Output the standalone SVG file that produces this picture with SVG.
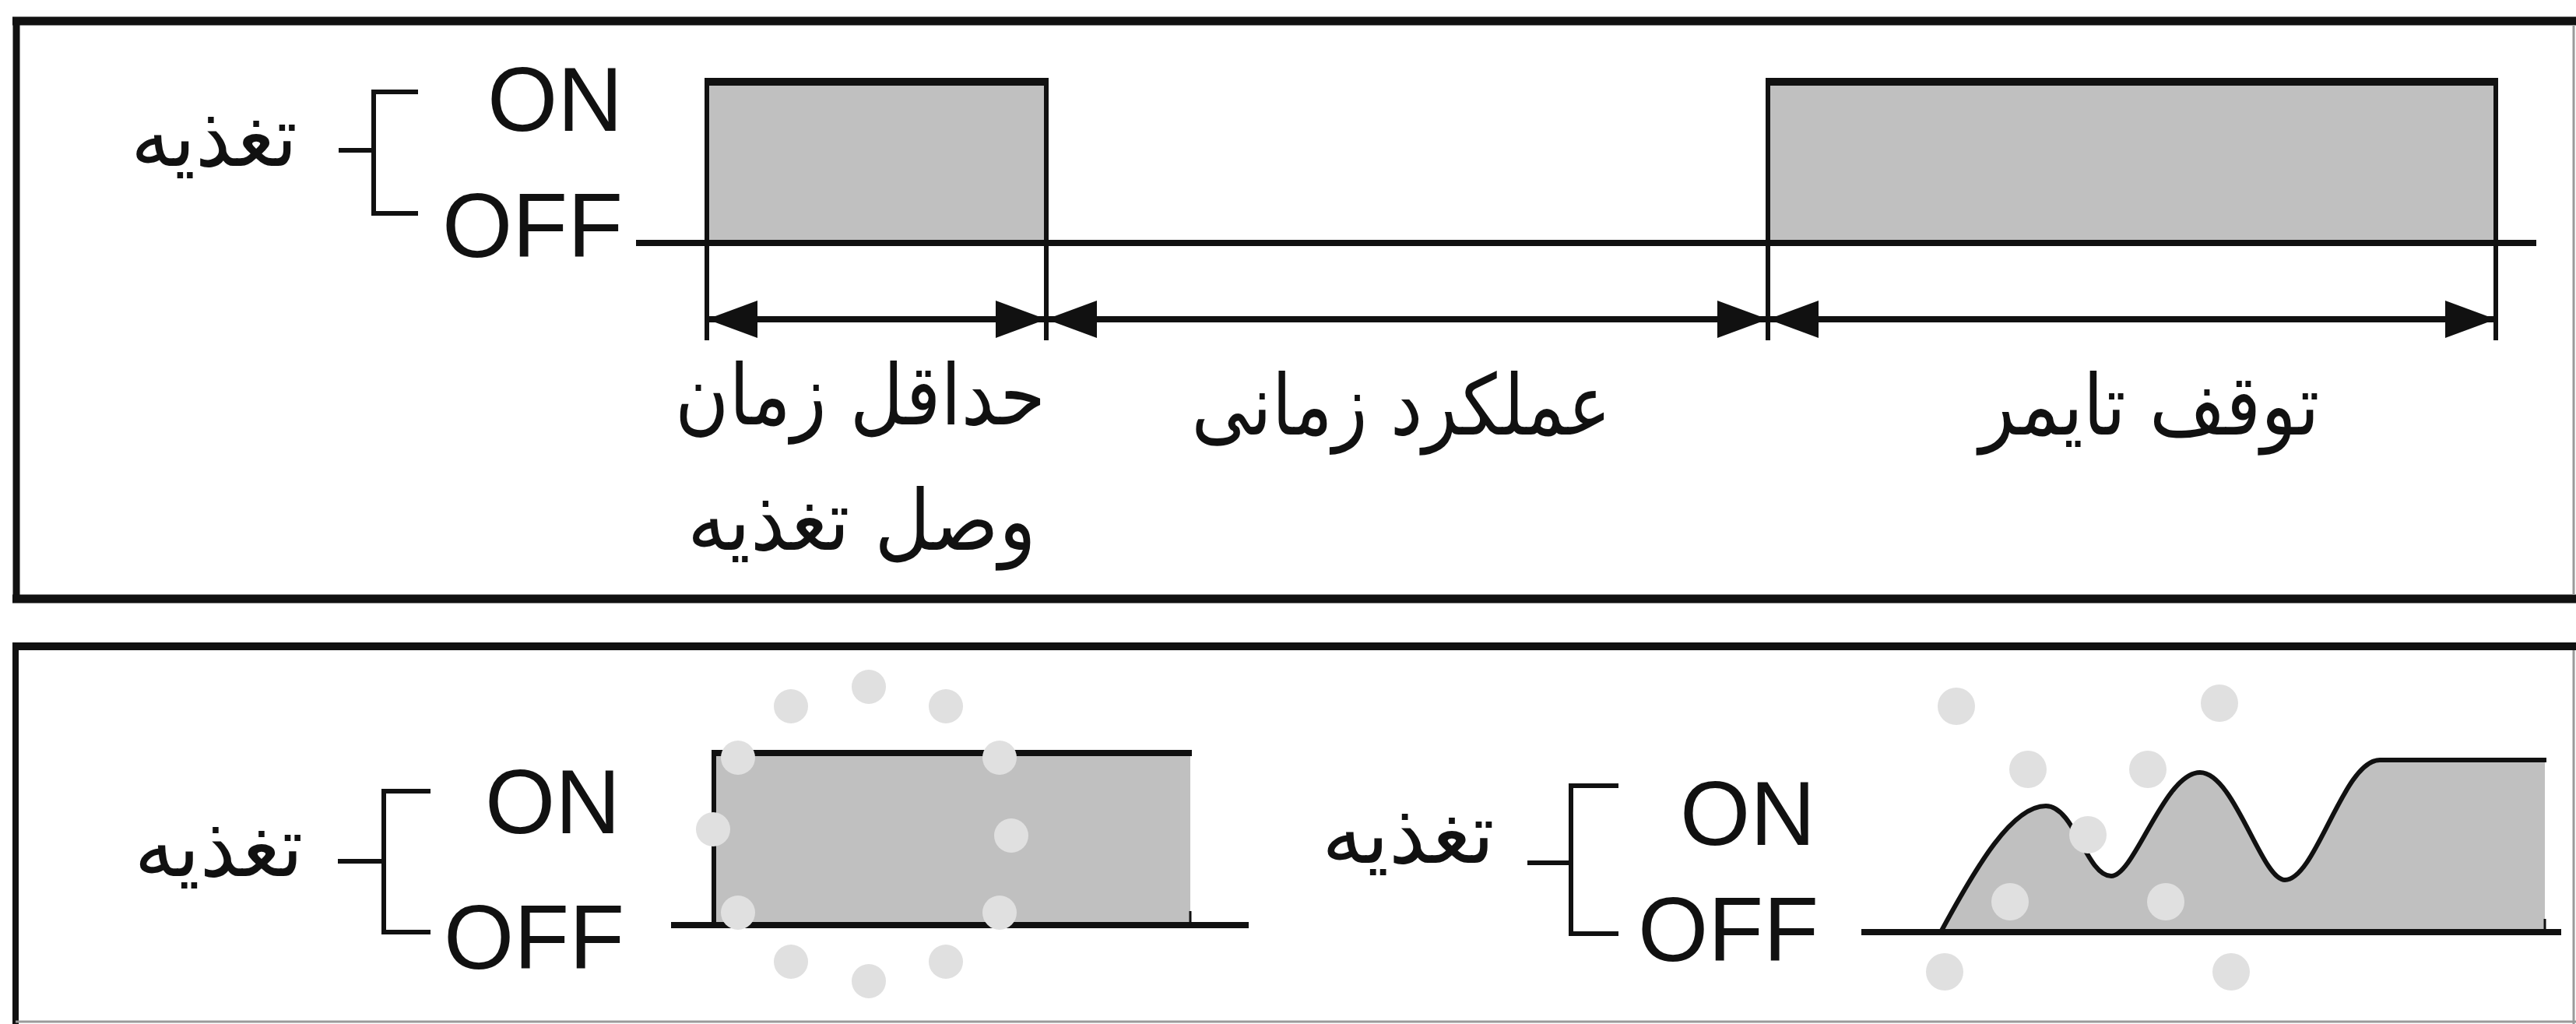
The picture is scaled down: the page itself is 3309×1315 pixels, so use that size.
<svg xmlns="http://www.w3.org/2000/svg" width="3309" height="1315" viewBox="0 0 3309 1315">
  <style>
    .frame{stroke:#111;fill:none}
    .thin{stroke:#9a9a9a;stroke-width:3;fill:none}
    .sig{stroke:#111;fill:none;stroke-linecap:butt}
    .fill{fill:#c0c0c0;stroke:none}
    .brk{stroke:#111;stroke-width:6;fill:none}
    .lat{font-family:"Liberation Sans",Arial,sans-serif;font-size:116px;fill:#111;text-anchor:end}
    .fa{font-family:"DejaVu Sans",sans-serif;font-size:108px;fill:#111;text-anchor:middle}
    .wm{fill:#e0e0e0}
    .arr{stroke:#111;stroke-width:8;fill:none;marker-start:url(#ah);marker-end:url(#ah)}
  </style>
  <defs>
    <marker id="ah" viewBox="0 0 65 48" refX="65" refY="24" markerWidth="65" markerHeight="48" markerUnits="userSpaceOnUse" orient="auto-start-reverse">
      <path d="M0,0 L65,24 L0,48 Z" fill="#111"/>
    </marker>
  </defs>
  <rect width="3309" height="1315" fill="#fff"/>

  <g id="panel-top">
    <line class="frame" x1="16" y1="27" x2="3309" y2="27" stroke-width="11"/>
    <line class="frame" x1="21" y1="22" x2="21" y2="774" stroke-width="9"/>
    <line class="frame" x1="16" y1="769" x2="3309" y2="769" stroke-width="11"/>
    <line class="thin" x1="3306" y1="32" x2="3306" y2="764"/>
  </g>
  <g id="panel-bottom">
    <line class="frame" x1="16" y1="830" x2="3309" y2="830" stroke-width="10"/>
    <line class="frame" x1="20" y1="825" x2="20" y2="1315" stroke-width="8"/>
    <line class="thin" x1="20" y1="1312" x2="3309" y2="1312"/>
    <line class="thin" x1="3306" y1="835" x2="3306" y2="1315"/>
  </g>

  <g id="signal-top">
    <rect class="fill" x="908" y="105" width="436" height="207"/>
    <rect class="fill" x="2271" y="105" width="935" height="207"/>
    <line class="sig" x1="817" y1="312" x2="3258" y2="312" stroke-width="8"/>
    <line class="sig" x1="905" y1="105" x2="1347" y2="105" stroke-width="10"/>
    <line class="sig" x1="2268" y1="105" x2="3209" y2="105" stroke-width="10"/>
    <line class="sig" x1="908" y1="100" x2="908" y2="437" stroke-width="6"/>
    <line class="sig" x1="1344" y1="100" x2="1344" y2="437" stroke-width="6"/>
    <line class="sig" x1="2271" y1="100" x2="2271" y2="437" stroke-width="6"/>
    <line class="sig" x1="3206" y1="100" x2="3206" y2="437" stroke-width="6"/>
  </g>

  <g id="connectors">
    <line class="arr" x1="908" y1="410" x2="1344" y2="410"/>
    <line class="arr" x1="1344" y1="410" x2="2271" y2="410"/>
    <line class="arr" x1="2271" y1="410" x2="3206" y2="410"/>
  </g>

  <g id="legend-top">
    <path class="brk" d="M537,118 H480 V274 H537 M435,193 H480"/>
    <text class="lat" x="800" y="168">ON</text>
    <text class="lat" x="800" y="330">OFF</text>
    <text class="fa" x="275" y="213" textLength="214" lengthAdjust="spacingAndGlyphs">تغذیه</text>
  </g>

  <g id="label-min-on">
    <text class="fa" x="1105" y="545" textLength="476" lengthAdjust="spacingAndGlyphs">حداقل زمان</text>
    <text class="fa" x="1107" y="706" textLength="448" lengthAdjust="spacingAndGlyphs">وصل تغذیه</text>
  </g>
  <g id="label-timing">
    <text class="fa" x="1800" y="558" textLength="539" lengthAdjust="spacingAndGlyphs">عملکرد زمانی</text>
  </g>
  <g id="label-stop">
    <text class="fa" x="2761" y="558" textLength="437" lengthAdjust="spacingAndGlyphs">توقف تایمر</text>
  </g>

  <g id="signal-bottom-left">
    <rect class="fill" x="917" y="967" width="612" height="221"/>
    <line class="sig" x1="862" y1="1188" x2="1604" y2="1188" stroke-width="8"/>
    <line class="sig" x1="914" y1="967" x2="1531" y2="967" stroke-width="8"/>
    <line class="sig" x1="917" y1="965" x2="917" y2="1188" stroke-width="6"/>
    <line class="sig" x1="1529" y1="1170" x2="1529" y2="1188" stroke-width="3"/>
  </g>
  <g id="legend-bottom-left">
    <path class="brk" d="M553,1016 H493 V1197 H553 M434,1106 H493"/>
    <text class="lat" x="797" y="1070">ON</text>
    <text class="lat" x="802" y="1244">OFF</text>
    <text class="fa" x="281" y="1125" textLength="217" lengthAdjust="spacingAndGlyphs">تغذیه</text>
  </g>

  <g id="signal-bottom-right">
    <path class="fill" d="M2493,1197 C2540,1110 2585,1035 2628,1035 C2665,1035 2680,1125 2712,1125 C2742,1125 2780,992 2826,992 C2870,992 2905,1130 2935,1130 C2975,1130 3010,976 3057,976 L3269,976 L3269,1197 Z"/>
    <line class="sig" x1="2391" y1="1197" x2="3290" y2="1197" stroke-width="8"/>
    <path class="sig" stroke-width="6" d="M2493,1197 C2540,1110 2585,1035 2628,1035 C2665,1035 2680,1125 2712,1125 C2742,1125 2780,992 2826,992 C2870,992 2905,1130 2935,1130 C2975,1130 3010,976 3057,976 L3271,976"/>
    <line class="sig" x1="3269" y1="1180" x2="3269" y2="1197" stroke-width="3"/>
  </g>
  <g id="legend-bottom-right">
    <path class="brk" d="M2079,1009 H2018 V1199 H2079 M1962,1108 H2018"/>
    <text class="lat" x="2332" y="1085">ON</text>
    <text class="lat" x="2336" y="1234">OFF</text>
    <text class="fa" x="1809" y="1108" textLength="222" lengthAdjust="spacingAndGlyphs">تغذیه</text>
  </g>

  <g id="watermark">
    <circle class="wm" cx="1016" cy="907" r="22"/>
    <circle class="wm" cx="1116" cy="882" r="22"/>
    <circle class="wm" cx="1215" cy="907" r="22"/>
    <circle class="wm" cx="948" cy="973" r="22"/>
    <circle class="wm" cx="1284" cy="973" r="22"/>
    <circle class="wm" cx="916" cy="1065" r="22"/>
    <circle class="wm" cx="1299" cy="1073" r="22"/>
    <circle class="wm" cx="948" cy="1172" r="22"/>
    <circle class="wm" cx="1284" cy="1172" r="22"/>
    <circle class="wm" cx="1016" cy="1235" r="22"/>
    <circle class="wm" cx="1116" cy="1260" r="22"/>
    <circle class="wm" cx="1215" cy="1235" r="22"/>
    <circle class="wm" cx="2513" cy="907" r="24"/>
    <circle class="wm" cx="2851" cy="903" r="24"/>
    <circle class="wm" cx="2605" cy="988" r="24"/>
    <circle class="wm" cx="2759" cy="988" r="24"/>
    <circle class="wm" cx="2682" cy="1072" r="24"/>
    <circle class="wm" cx="2582" cy="1158" r="24"/>
    <circle class="wm" cx="2782" cy="1158" r="24"/>
    <circle class="wm" cx="2498" cy="1248" r="24"/>
    <circle class="wm" cx="2866" cy="1248" r="24"/>
  </g>
</svg>
